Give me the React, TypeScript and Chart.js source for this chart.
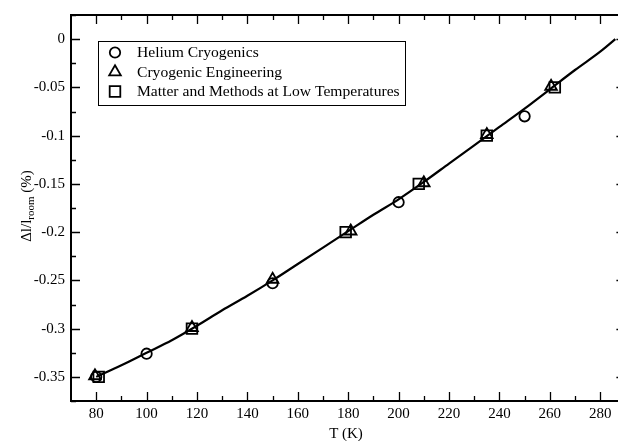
import React, { useEffect, useRef } from 'react';
import { Chart, registerables } from 'chart.js';
Chart.register(...registerables);

const curveT = [80, 90, 100, 110, 120, 130, 140, 150, 160, 170, 180, 190, 200, 210, 220, 230, 240, 250, 260, 270, 280, 286];
const curveDL = [-0.35, -0.338, -0.325, -0.312, -0.297, -0.281, -0.266, -0.25, -0.233, -0.216, -0.199, -0.182, -0.166, -0.148, -0.129, -0.11, -0.091, -0.072, -0.052, -0.032, -0.013, 0.0];

const heliumT = [80, 100, 150, 200, 250];
const heliumDL = [-0.35, -0.326, -0.253, -0.169, -0.08];

const engT = [79.5, 118, 150, 181, 210, 235, 260.5];
const engDL = [-0.349, -0.299, -0.249, -0.199, -0.149, -0.099, -0.049];

const mmT = [81, 118, 179, 208, 235, 262];
const mmDL = [-0.35, -0.3, -0.2, -0.15, -0.1, -0.05];

const legendLabels = ['Helium Cryogenics', 'Cryogenic Engineering', 'Matter and Methods at Low Temperatures'];
const xTicks = [80, 100, 120, 140, 160, 180, 200, 220, 240, 260, 280];
const xMinor = [90, 110, 130, 150, 170, 190, 210, 230, 250, 270];
const yTicks = [-0.35, -0.3, -0.25, -0.2, -0.15, -0.1, -0.05, 0];
const yMinor = [-0.375, -0.325, -0.275, -0.225, -0.175, -0.125, -0.075, -0.025, 0.025];

const FONT = '"Liberation Serif", "Times New Roman", serif';

function drawSymbol(ctx: CanvasRenderingContext2D, style: string, x: number, y: number) {
  ctx.beginPath();
  if (style === 'circle') {
    ctx.arc(x, y, 5.2, 0, Math.PI * 2);
  } else if (style === 'triangle') {
    const r = 6.7;
    ctx.moveTo(x, y - r);
    ctx.lineTo(x + r * Math.sqrt(3) / 2, y + r / 2);
    ctx.lineTo(x - r * Math.sqrt(3) / 2, y + r / 2);
    ctx.closePath();
  } else {
    const s = 5.3;
    ctx.rect(x - s, y - s, 2 * s, 2 * s);
  }
  ctx.stroke();
}

const framePlugin = {
  id: 'frame',
  afterDraw(chart: any) {
    const ctx = chart.ctx as CanvasRenderingContext2D;
    const { left, right, top, bottom } = chart.chartArea;
    const xs = chart.scales.x;
    const ys = chart.scales.y;
    ctx.save();
    ctx.strokeStyle = '#000';
    ctx.lineWidth = 2;
    ctx.beginPath();
    ctx.rect(left, top, right - left, bottom - top);
    ctx.stroke();
    ctx.lineWidth = 1.3;
    ctx.beginPath();
    const MAJ = 9, MIN = 5;
    xTicks.forEach(v => {
      const px = Math.round(xs.getPixelForValue(v)) + 0.5;
      ctx.moveTo(px, bottom); ctx.lineTo(px, bottom - MAJ);
      ctx.moveTo(px, top); ctx.lineTo(px, top + MAJ);
    });
    xMinor.forEach(v => {
      const px = Math.round(xs.getPixelForValue(v)) + 0.5;
      ctx.moveTo(px, bottom); ctx.lineTo(px, bottom - MIN);
      ctx.moveTo(px, top); ctx.lineTo(px, top + MIN);
    });
    yTicks.forEach(v => {
      const py = Math.round(ys.getPixelForValue(v)) + 0.5;
      ctx.moveTo(left, py); ctx.lineTo(left + MAJ, py);
      ctx.moveTo(right, py); ctx.lineTo(right - MAJ, py);
    });
    yMinor.forEach(v => {
      const py = Math.round(ys.getPixelForValue(v)) + 0.5;
      ctx.moveTo(left, py); ctx.lineTo(left + MIN, py);
      ctx.moveTo(right, py); ctx.lineTo(right - MIN, py);
    });
    ctx.stroke();

    // x title
    ctx.fillStyle = '#000';
    ctx.font = `15px ${FONT}`;
    ctx.textAlign = 'center';
    ctx.textBaseline = 'alphabetic';
    ctx.fillText('T (K)', 346, 438);

    // y title with subscript
    ctx.save();
    ctx.translate(31, 206);
    ctx.rotate(-Math.PI / 2);
    const main1 = 'Δl/l';
    const sub = 'room';
    const main2 = ' (%)';
    ctx.font = `15px ${FONT}`;
    const w1 = ctx.measureText(main1).width;
    const w3 = ctx.measureText(main2).width;
    ctx.font = `11px ${FONT}`;
    const w2 = ctx.measureText(sub).width;
    const total = w1 + w2 + w3;
    let x0 = -total / 2;
    ctx.textAlign = 'left';
    ctx.font = `15px ${FONT}`;
    ctx.fillText(main1, x0, 0);
    x0 += w1;
    ctx.font = `11px ${FONT}`;
    ctx.fillText(sub, x0, 3);
    x0 += w2;
    ctx.font = `15px ${FONT}`;
    ctx.fillText(main2, x0, 0);
    ctx.restore();

    // legend
    ctx.lineWidth = 1;
    ctx.strokeRect(98.5, 41.5, 307, 64);
    const styles = ['circle', 'triangle', 'rect'];
    const rowsY = [52.5, 72, 91.5];
    ctx.lineWidth = 1.8;
    ctx.font = `15.6px ${FONT}`;
    ctx.textAlign = 'left';
    ctx.textBaseline = 'middle';
    styles.forEach((s, i) => {
      drawSymbol(ctx, s, 115, rowsY[i]);
      ctx.fillText(legendLabels[i], 137, rowsY[i] + 0.5);
    });
    ctx.restore();
  },
};

export default function App() {
  const ref = useRef<HTMLCanvasElement>(null);
  useEffect(() => {
    if (!ref.current) return;
    const pts = (xs: number[], ys: number[]) => xs.map((x, i) => ({ x, y: ys[i] }));
    const markerDs = (label: string, style: string, data: any[], radius: number) => ({
      label,
      data,
      showLine: false,
      pointStyle: style,
      pointRadius: radius,
      pointBorderWidth: 1.8,
      borderColor: '#000',
      backgroundColor: 'rgba(0,0,0,0)',
      pointBackgroundColor: 'rgba(0,0,0,0)',
      pointBorderColor: '#000',
    });
    const chart = new Chart(ref.current, {
      type: 'scatter',
      data: {
        datasets: [
          {
            label: 'fit',
            data: pts(curveT, curveDL),
            showLine: true,
            pointRadius: 0,
            borderColor: '#000',
            borderWidth: 2.2,
            tension: 0.4,
            cubicInterpolationMode: 'monotone',
          } as any,
          markerDs(legendLabels[0], 'circle', pts(heliumT, heliumDL), 5.2),
          markerDs(legendLabels[1], 'triangle', pts(engT, engDL), 6.7),
          markerDs(legendLabels[2], 'rect', pts(mmT, mmDL), 7.5),
        ],
      },
      options: {
        responsive: false,
        animation: false,
        layout: { padding: { top: 13, right: 14.6, left: 0, bottom: 0 } },
        plugins: { legend: { display: false }, tooltip: { enabled: false } },
        scales: {
          x: {
            type: 'linear',
            min: 70,
            max: 290,
            grid: { display: false, drawTicks: false },
            border: { display: false },
            afterBuildTicks: (s: any) => { s.ticks = xTicks.map(v => ({ value: v })); },
            afterFit: (s: any) => { s.height = 40; },
            ticks: {
              padding: 4,
              color: '#000',
              font: { family: FONT, size: 15 },
              maxRotation: 0,
              autoSkip: false,
              callback: (v: any) => String(v),
            },
          },
          y: {
            type: 'linear',
            min: -0.375,
            max: 0.025,
            grid: { display: false, drawTicks: false },
            border: { display: false },
            afterBuildTicks: (s: any) => { s.ticks = yTicks.map(v => ({ value: v })); },
            afterFit: (s: any) => { s.width = 71; },
            ticks: {
              padding: 6,
              color: '#000',
              font: { family: FONT, size: 15 },
              autoSkip: false,
              callback: (v: any) => {
                const r = Math.round(Number(v) * 100) / 100;
                return r === 0 ? '0' : String(r);
              },
            },
          },
        },
      } as any,
      plugins: [framePlugin],
    });
    return () => chart.destroy();
  }, []);
  return (
    <div style={{ position: 'absolute', left: 0, top: 0, width: 618, height: 441, overflow: 'hidden', background: '#fff' }}>
      <canvas ref={ref} width={640} height={441} style={{ display: 'block' }} />
    </div>
  );
}
